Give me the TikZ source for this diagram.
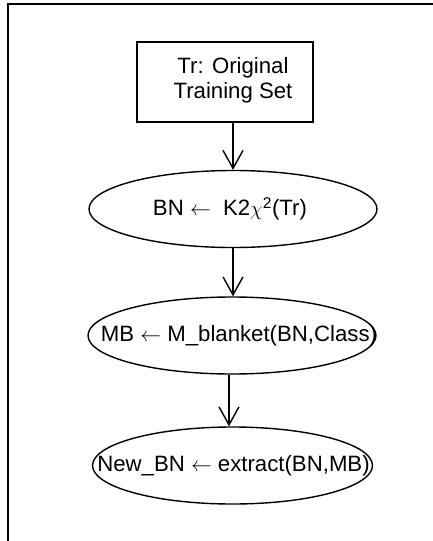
\documentclass[tikz,border=0pt]{standalone}
\usepackage{fontspec}
\setmainfont{Liberation Sans}
\usetikzlibrary{shapes.geometric,arrows.meta}
\newcommand{\fixw}[2][0pt]{\makebox[0pt][c]{\hspace*{#1}#2}}
\begin{document}
\begin{tikzpicture}[x=1pt,y=-1pt,
  every node/.style={font=\fontsize{22.2}{25}\selectfont},
  frame/.style={line width=1.5pt},
  procbox/.style={draw, line width=1.4pt, minimum width=176pt, minimum height=80pt, inner sep=0pt},
  stepell/.style={draw, ellipse, line width=1.4pt, inner sep=0pt},
  flow/.style={line width=1.4pt, -{Straight Barb[length=18pt,width=20pt,line width=1.4pt]}}
]
\clip (0,0) rectangle (433,541);
\draw[frame] (8,4) rectangle (460,570);
\node[procbox] (tr) at (225,82) {};
\node[align=center, inner sep=0pt] (trt) at (233,80) {Tr: Original\\Training Set};
\node[stepell, minimum width=288pt, minimum height=77pt] (bn) at (233,209) {\fixw[-6pt]{BN $\leftarrow$\ \ K2$\chi$\textsuperscript{2}(Tr)}};
\node[stepell, minimum width=288pt, minimum height=77pt] (mb) at (232,335.5) {\fixw[14pt]{MB $\leftarrow$ M\_blanket(BN,Class)}};
\node[stepell, minimum width=280pt, minimum height=77pt] (nbn) at (232.5,465.5) {\fixw[2pt]{New\_BN $\leftarrow$ extract(BN,MB)}};
\draw[flow] (trt |- tr.south) -- (bn.north);
\draw[flow] (bn.south) -- (bn.south |- mb.north);
\draw[flow] ([xshift=-3pt]mb.south) -- ([xshift=-3pt]mb.south |- nbn.north);
\end{tikzpicture}
\end{document}
